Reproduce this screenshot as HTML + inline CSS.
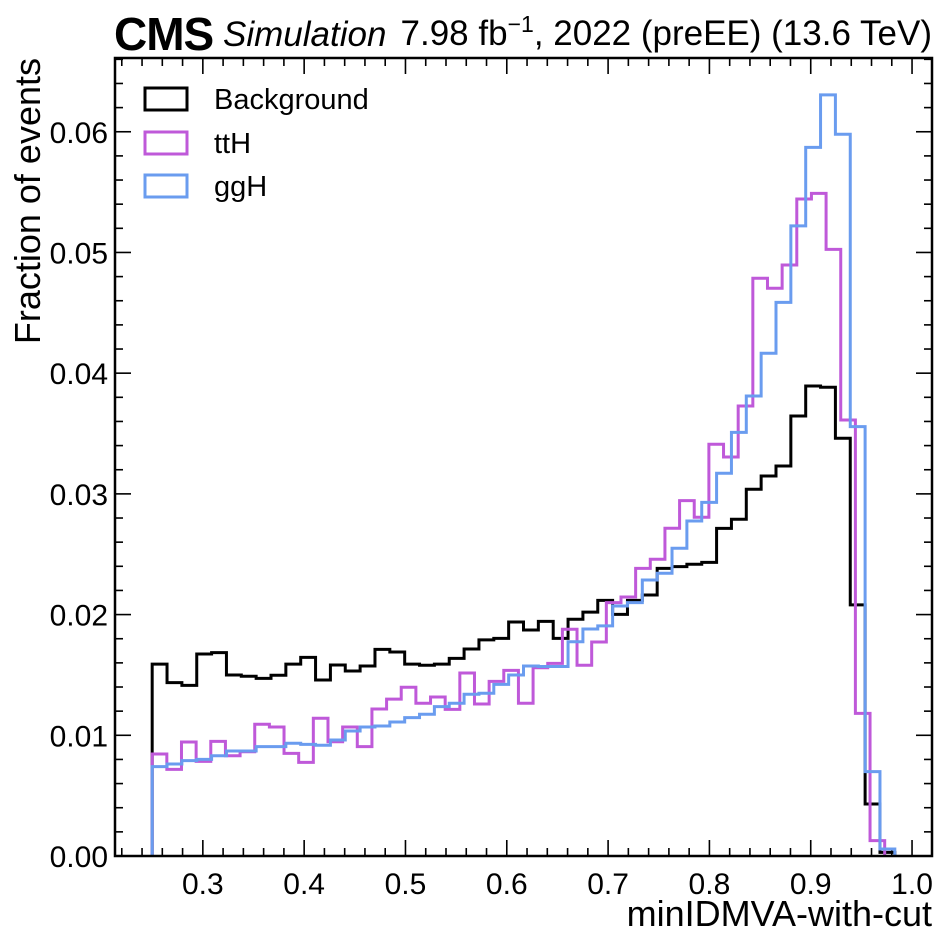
<!DOCTYPE html>
<html><head><meta charset="utf-8"><style>
html,body{margin:0;padding:0;background:#fff;}
svg{display:block;font-family:"Liberation Sans",Arial,sans-serif;}
</style></head><body>
<svg id="chart" width="942" height="942" viewBox="0 0 942 942">
  <g id="ticks"></g>
  <g id="series"></g>
  <rect x="115" y="58" width="817" height="798" fill="none" stroke="#000" stroke-width="2.5"/>
  <text x="114" y="50" font-size="46" font-weight="bold" letter-spacing="-1">CMS</text>
  <text x="223" y="46" font-size="35" font-style="italic">Simulation</text>
  <text x="932" y="45" font-size="35" text-anchor="end">7.98 fb<tspan dy="-13" font-size="23">−1</tspan><tspan dy="13">, 2022 (preEE) (13.6 TeV)</tspan></text>
  <text x="932" y="926" font-size="36" text-anchor="end">minIDMVA-with-cut</text>
  <text transform="translate(40,58) rotate(-90)" font-size="36" text-anchor="end">Fraction of events</text>
  <g>
    <rect x="145" y="88" width="42" height="22" fill="none" stroke="#000" stroke-width="3"/>
    <text x="214" y="109" font-size="29">Background</text>
    <rect x="145" y="132" width="42" height="22" fill="none" stroke="#BF59D9" stroke-width="3"/>
    <text x="214" y="153" font-size="29">ttH</text>
    <rect x="145" y="175" width="42" height="22" fill="none" stroke="#6A9CEF" stroke-width="3"/>
    <text x="214" y="196" font-size="29">ggH</text>
  </g>
</svg>
<script>
const bkgValues=[0.0159,0.01436,0.01414,0.01673,0.01685,0.0150,0.01489,0.01472,0.01497,0.0159,0.01646,0.01458,0.01582,0.01533,0.01574,0.01712,0.0169,0.0159,0.0158,0.0159,0.01637,0.01715,0.0179,0.01803,0.01939,0.01872,0.01944,0.01803,0.01961,0.0202,0.02118,0.02002,0.02118,0.02162,0.02383,0.02397,0.02417,0.02433,0.02714,0.0279,0.03038,0.03148,0.03231,0.03645,0.03894,0.03883,0.03461,0.0208,0.00431,0.0003];
const tthValues=[0.00845,0.00718,0.00944,0.00784,0.0095,0.00831,0.00864,0.01091,0.01069,0.0085,0.00776,0.01141,0.00947,0.01069,0.00906,0.01218,0.013,0.01398,0.01265,0.01317,0.01215,0.01516,0.01259,0.01447,0.01538,0.01265,0.0156,0.01596,0.01878,0.0158,0.01773,0.02099,0.02146,0.02383,0.02458,0.02715,0.02944,0.02806,0.03411,0.03306,0.03728,0.04786,0.04703,0.04896,0.05443,0.0549,0.05026,0.03612,0.01182,0.00127];
const gghValues=[0.0074,0.00762,0.0079,0.00801,0.00831,0.0087,0.0087,0.00906,0.00906,0.00934,0.00925,0.00917,0.00961,0.01036,0.01069,0.01077,0.0111,0.01146,0.01174,0.01237,0.01265,0.0134,0.01348,0.01422,0.015,0.01574,0.0157,0.0157,0.01775,0.01881,0.01906,0.02071,0.02099,0.02287,0.02342,0.0255,0.02775,0.0293,0.03171,0.0351,0.03811,0.04165,0.04587,0.0522,0.05871,0.06305,0.05979,0.03557,0.00699,0.00058];
const bkgRange=[0.25,0.983];
const tthRange=[0.25,0.973];
const gghRange=[0.25,0.983];
const xTickLabels=["0.3","0.4","0.5","0.6","0.7","0.8","0.9","1.0"];
const yTickLabels=["0.00","0.01","0.02","0.03","0.04","0.05","0.06"];

const NS="http://www.w3.org/2000/svg";
const X0=115,X1=932,Y0=856,Y1=58;
const xMin=0.2133,xMax=1.0197,yMin=0,yMax=0.06611;
function xs(v){return X0+(v-xMin)/(xMax-xMin)*(X1-X0);}
function ys(v){return Y0-(v-yMin)/(yMax-yMin)*(Y0-Y1);}
function mk(tag,attrs){const e=document.createElementNS(NS,tag);for(const k in attrs)e.setAttribute(k,attrs[k]);return e;}

const tg=document.getElementById('ticks');
for(let i=0;i<=45;i++){
  const v=0.22+i*0.02; const px=xs(v); if(px<X0||px>X1)continue;
  const major=Math.abs((v*10)-Math.round(v*10))<1e-6;
  const len=major?16:8;
  const t1=mk('line',{x1:px,x2:px,y1:Y0,y2:Y0-len,stroke:'#000','stroke-width':1.6});
  
  
  tg.appendChild(t1);
  const t2=mk('line',{x1:px,x2:px,y1:Y1,y2:Y1+len,stroke:'#000','stroke-width':1.6});
  
  
  tg.appendChild(t2);
}
xTickLabels.forEach(s=>{
  const t=mk('text',{x:xs(parseFloat(s)),y:894,'font-size':30,'text-anchor':'middle'});
  t.textContent=s;
  
  
  tg.appendChild(t);
});
for(let i=0;i<=33;i++){
  const v=i*0.002; const py=ys(v); if(py<Y1)continue;
  const major=(i%5===0); const len=major?16:8;
  const t1=mk('line',{x1:X0,x2:X0+len,y1:py,y2:py,stroke:'#000','stroke-width':1.6});
  
  
  tg.appendChild(t1);
  const t2=mk('line',{x1:X1,x2:X1-len,y1:py,y2:py,stroke:'#000','stroke-width':1.6});
  
  
  tg.appendChild(t2);
}
yTickLabels.forEach(s=>{
  const t=mk('text',{x:108,y:ys(parseFloat(s))+11,'font-size':30,'text-anchor':'end'});
  t.textContent=s;
  
  
  tg.appendChild(t);
});

const sg=document.getElementById('series');
function drawHist(vals,range,color,name){
  const n=vals.length,w=(range[1]-range[0])/n;
  let d='M'+xs(range[0])+','+ys(0);
  for(let i=0;i<n;i++){
    d+=' L'+xs(range[0]+i*w)+','+ys(vals[i])+' L'+xs(range[0]+(i+1)*w)+','+ys(vals[i]);
  }
  d+=' L'+xs(range[1])+','+ys(0);
  const p=mk('path',{d:d,fill:'none',stroke:color,'stroke-width':3,'stroke-linejoin':'miter'});
  
  
  sg.appendChild(p);
}
drawHist(bkgValues,bkgRange,'#000','histogram-background');
drawHist(tthValues,tthRange,'#BF59D9','histogram-tth');
drawHist(gghValues,gghRange,'#6A9CEF','histogram-ggh');
</script>
</body></html>
